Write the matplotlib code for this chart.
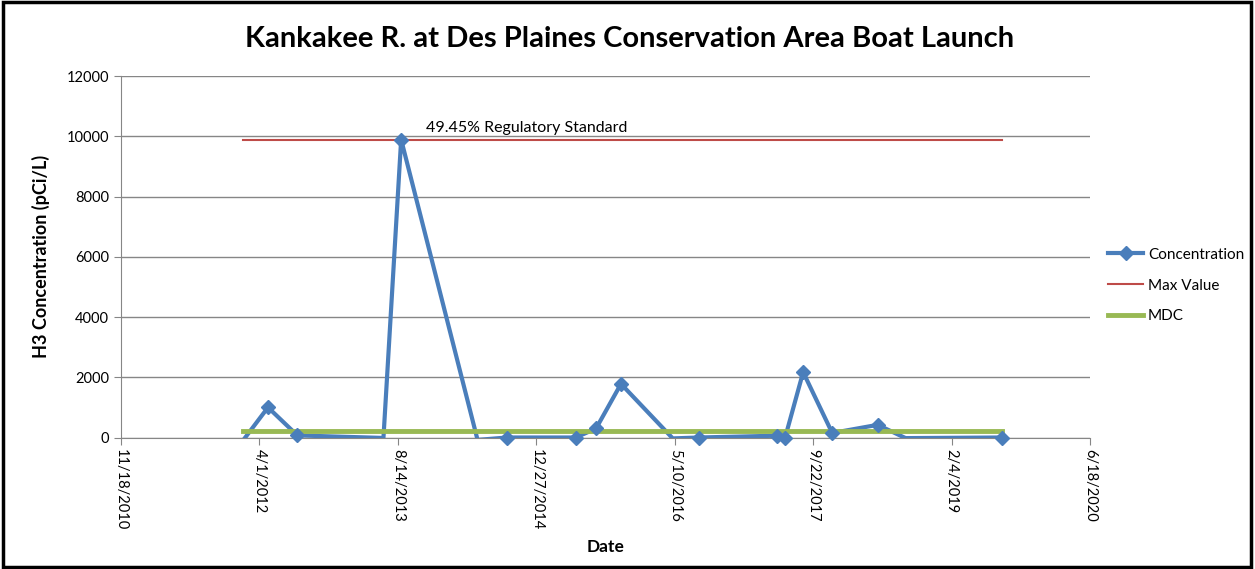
import matplotlib
matplotlib.use('Agg')
import matplotlib.pyplot as plt
from matplotlib.lines import Line2D
from matplotlib.patches import Rectangle
import pandas as pd
import numpy as np

# Sample results (H3, pCi/L)
sample_dates = ['2012-01-31', '2012-05-02', '2012-08-16', '2013-06-23', '2013-08-26',
                '2014-05-29', '2014-09-12', '2015-05-19', '2015-07-31', '2015-10-29',
                '2016-05-03', '2016-08-05', '2017-05-15', '2017-06-13', '2017-08-17',
                '2017-11-30', '2018-05-13', '2018-08-22', '2019-08-07']
concentration = [-120, 1000, 70, -15, 9890,
                 -80, 0, 0, 300, 1780,
                 -30, 0, 60, 0, 2170,
                 150, 420, -20, 0]
max_value = 9890
mdc_value = 200
standard_label = '49.45% Regulatory Standard'

axis_start = '2010-11-18'
axis_ticks = 8
y_ticks = [0, 2000, 4000, 6000, 8000, 10000, 12000]

BLUE = '#4A7EBB'
RED = '#BE4B48'
GREEN = '#98B954'
GRID = '#868686'

plt.rcParams['font.family'] = ['Lato', 'DejaVu Sans']

dates = pd.to_datetime(sample_dates)
conc = np.array(concentration)
span = [dates[0], dates[-1]]

fig = plt.figure(figsize=(12.55, 5.69), dpi=100)
ax = fig.add_axes([0.0964, 0.2311, 0.7721, 0.6353])

# concentration line is clipped at zero, markers only where the value is on scale
ax.plot(dates, conc, color=BLUE, lw=3, zorder=3)
ax.plot(dates[conc >= 0], conc[conc >= 0], ls='none', marker='D', ms=7,
        color=BLUE, clip_on=False, zorder=4)
ax.plot(span, [max_value, max_value], color=RED, lw=1.5, zorder=2)
ax.plot(span, [mdc_value, mdc_value], color=GREEN, lw=3.5, zorder=3)

ax.text(dates[4] + pd.Timedelta(days=90), max_value + 150, standard_label,
        fontsize=11.5, ha='left', va='bottom')

ticks = pd.date_range(axis_start, periods=axis_ticks, freq='500D')
ax.set_xlim(ticks[0], ticks[-1])
ax.set_xticks(ticks)
ax.set_xticklabels([f'{d.month}/{d.day}/{d.year}' for d in ticks],
                   rotation=-90, fontsize=10.5)
ax.set_ylim(0, 12000)
ax.set_yticks(y_ticks)
ax.tick_params(axis='y', labelsize=10.5, length=5, color=GRID)
ax.tick_params(axis='x', length=5, color=GRID)

ax.grid(axis='y', color=GRID, lw=1)
ax.set_axisbelow(True)
for side in ['top', 'right']:
    ax.spines[side].set_visible(False)
for side in ['left', 'bottom']:
    ax.spines[side].set_color(GRID)

ax.set_xlabel('Date', fontsize=12.5, fontweight='bold', labelpad=6)
ax.set_ylabel('H3 Concentration (pCi/L)', fontsize=13, fontweight='bold', labelpad=12)
fig.suptitle('Kankakee R. at Des Plaines Conservation Area Boat Launch',
             x=0.502, y=0.955, fontsize=21, fontweight='bold')

handles = [Line2D([], [], color=BLUE, lw=3, marker='D', ms=7),
           Line2D([], [], color=RED, lw=1.5),
           Line2D([], [], color=GREEN, lw=3.5)]
fig.legend(handles, ['Concentration', 'Max Value', 'MDC'],
           loc='center left', bbox_to_anchor=(0.872, 0.498), frameon=False,
           fontsize=11, handlelength=2.3, handletextpad=0.3, labelspacing=1.1)

# chart border
fig.patches.append(Rectangle((0.002, 0.003), 0.995, 0.993, transform=fig.transFigure,
                             fill=False, edgecolor='black', lw=2.5))

fig.savefig('out.png', dpi=100)
